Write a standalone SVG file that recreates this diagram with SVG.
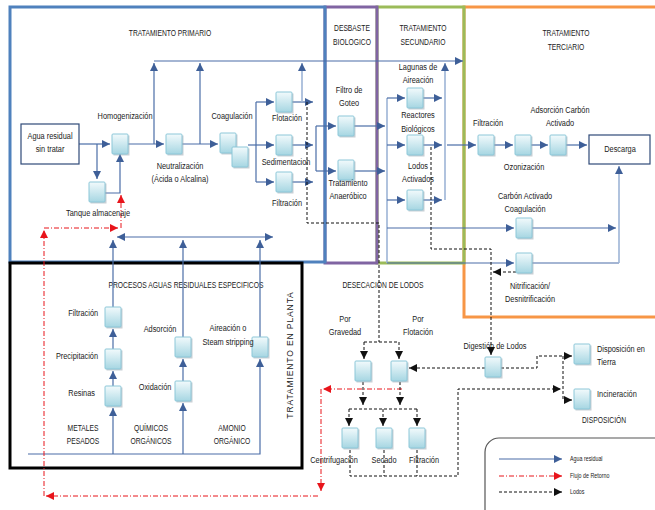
<svg xmlns="http://www.w3.org/2000/svg" width="655" height="510" viewBox="0 0 655 510">
<defs>
<style>
text{font-family:"Liberation Sans",Arial,sans-serif;font-size:9px;fill:#1a1a1a;text-anchor:middle;transform-box:fill-box;transform-origin:center;transform:scaleX(0.82)}
.u{transform:scaleX(0.75)}
.s{text-anchor:start;transform-origin:left center}
.e{text-anchor:end;transform-origin:right center}
.lg{font-size:6.5px;text-anchor:start;transform-origin:left center}
.rot{transform:scaleX(1)}
.frame{fill:none;stroke-width:3}
.w{fill:none;stroke:#4A6DA7;stroke-width:1.2}
.wl{fill:none;stroke:#9DB4D6;stroke-width:1.6}
.r{fill:none;stroke:#E8141B;stroke-width:1;stroke-dasharray:5 2 1 2}
.k{fill:none;stroke:#111;stroke-width:1;stroke-dasharray:3 2}
.nb{fill:#fff;stroke:#2F4A78;stroke-width:1.2}
</style>
<linearGradient id="g" x1="0" y1="0" x2="0" y2="1">
<stop offset="0" stop-color="#F2FAFC"/><stop offset="1" stop-color="#A6D6E2"/>
</linearGradient>
<g id="bx"><rect x="1.5" y="1.5" width="16" height="20" fill="#9AA7B2" opacity="0.55"/><rect width="16" height="20" rx="1" fill="url(#g)" stroke="#8CC7D8" stroke-width="1"/></g>
<marker id="ab" viewBox="0 0 10 10" refX="10" refY="5" markerWidth="8" markerHeight="8" markerUnits="userSpaceOnUse" orient="auto-start-reverse"><path d="M0,0L10,5L0,10z" fill="#3E5F98"/></marker>
<marker id="ar" viewBox="0 0 10 10" refX="10" refY="5" markerWidth="8" markerHeight="8" markerUnits="userSpaceOnUse" orient="auto"><path d="M0,0L10,5L0,10z" fill="#E8141B"/></marker>
<marker id="ak" viewBox="0 0 10 10" refX="10" refY="5" markerWidth="8" markerHeight="8" markerUnits="userSpaceOnUse" orient="auto"><path d="M0,0L10,5L0,10z" fill="#111"/></marker>
</defs>
<rect width="655" height="510" fill="#fff"/>

<!-- frames -->
<g id="frames">
<rect x="464" y="7" width="200" height="310" class="frame" stroke="#F79646"/>
<rect x="377" y="7" width="87" height="256" class="frame" stroke="#9BBB59"/>
<rect x="325" y="7" width="52" height="256" class="frame" stroke="#8064A2"/>
<rect x="10" y="7" width="315" height="255" class="frame" stroke="#4F81BD"/>
<rect x="10" y="263" width="292" height="205" class="frame" stroke="#000"/>
<text class="u" x="170" y="36">TRATAMIENTO PRIMARIO</text>
<text class="u" x="352" y="31">DESBASTE</text><text class="u" x="352" y="45">BIOLOGICO</text>
<text class="u" x="423" y="31">TRATAMIENTO</text><text class="u" x="423" y="45">SECUNDARIO</text>
<text class="u" x="566" y="36">TRATAMIENTO</text><text class="u" x="566" y="50">TERCIARIO</text>
<text class="u" x="186" y="288">PROCESOS AGUAS RESIDUALES ESPECIFICOS</text>
<text class="u" x="383" y="288">DESECACION DE LODOS</text>
<text class="u" x="604" y="423">DISPOSICIÓN</text>
<g transform="translate(293,355) rotate(-90)"><text class="rot" x="0" y="0" style="font-size:8.5px;letter-spacing:0.9px">TRATAMIENTO EN PLANTA</text></g>
</g>

<!-- connectors -->
<g id="connectors">
<path class="w" d="M79,144H110" marker-end="url(#ab)"/>
<path class="w" d="M97,144V179" marker-end="url(#ab)"/>
<path class="w" d="M105,193H120V154" marker-end="url(#ab)"/>
<path class="w" d="M128,144H164" marker-end="url(#ab)"/>
<path class="w" d="M154,144V63" marker-end="url(#ab)"/>
<path class="w" d="M182,144H218" marker-end="url(#ab)"/>
<path class="w" d="M200,144V63" marker-end="url(#ab)"/>
<path class="w" d="M154,61H463" marker-end="url(#ab)"/>
<path class="w" d="M248,145H274" marker-end="url(#ab)"/>
<path class="w" d="M256,102V182"/>
<path class="w" d="M256,102H274" marker-end="url(#ab)"/>
<path class="w" d="M256,182H274" marker-end="url(#ab)"/>
<path class="w" d="M292,102H313" marker-end="url(#ab)"/>
<path class="w" d="M292,145H313" marker-end="url(#ab)"/>
<path class="w" d="M292,182H313" marker-end="url(#ab)"/>
<path class="wl" d="M302,102V63" marker-end="url(#ab)"/>
<path class="w" d="M316,126V171"/>
<path class="w" d="M316,126H336" marker-end="url(#ab)"/>
<path class="w" d="M316,171H336" marker-end="url(#ab)"/>
<path class="w" d="M354,126H385" marker-end="url(#ab)"/>
<path class="w" d="M354,171H385" marker-end="url(#ab)"/>
<path class="wl" d="M387,98V263"/>
<path class="w" d="M387,98H405" marker-end="url(#ab)"/>
<path class="w" d="M387,145H405" marker-end="url(#ab)"/>
<path class="w" d="M387,200H405" marker-end="url(#ab)"/>
<path class="w" d="M423,98H442" marker-end="url(#ab)"/>
<path class="w" d="M423,145H442" marker-end="url(#ab)"/>
<path class="w" d="M423,200H442" marker-end="url(#ab)"/>
<path class="wl" d="M445,200V63" marker-end="url(#ab)"/>
<path class="w" d="M447,145H476" marker-end="url(#ab)"/>
<path class="w" d="M494,145H513" marker-end="url(#ab)"/>
<path class="w" d="M531,145H548" marker-end="url(#ab)"/>
<path class="w" d="M566,145H587" marker-end="url(#ab)"/>
<path class="w" d="M387,228H514" marker-end="url(#ab)"/>
<path class="w" d="M387,263H514" marker-end="url(#ab)"/>
<path class="w" d="M532,228H616" marker-end="url(#ab)"/>
<path class="w" d="M532,263H619"/>
<path class="wl" d="M619,263V166" marker-end="url(#ab)"/>
<path class="w" d="M117,237H273" marker-start="url(#ab)" marker-end="url(#ab)"/>
<path class="w" d="M113,307V240" marker-end="url(#ab)"/>
<path class="w" d="M183,337V240" marker-end="url(#ab)"/>
<path class="w" d="M260,337V240" marker-end="url(#ab)"/>
<path class="w" d="M28,454H260V359" marker-end="url(#ab)"/>
<path class="w" d="M113,454V408" marker-end="url(#ab)"/>
<path class="w" d="M113,386V371" marker-end="url(#ab)"/>
<path class="w" d="M113,349V329" marker-end="url(#ab)"/>
<path class="w" d="M183,454V403" marker-end="url(#ab)"/>
<path class="w" d="M183,381V359" marker-end="url(#ab)"/>
<path class="r" d="M402,389H323" marker-end="url(#ar)"/>
<path class="r" d="M321,389V491" marker-end="url(#ar)"/>
<path class="r" d="M318,496H46" marker-end="url(#ar)"/>
<path class="r" d="M44,496V230" marker-end="url(#ar)"/>
<path class="r" d="M44,228H118" marker-end="url(#ar)"/>
<path class="r" d="M121,228V195" marker-end="url(#ar)"/>
<path class="k" d="M307,102V223H379V342"/>
<path class="k" d="M364,342H399"/>
<path class="k" d="M364,342V359" marker-end="url(#ak)"/>
<path class="k" d="M399,342V359" marker-end="url(#ak)"/>
<path class="k" d="M431,147V249H491V355" marker-end="url(#ak)"/>
<path class="k" d="M516,272H493" marker-end="url(#ak)"/>
<path class="k" d="M485,368H409" marker-end="url(#ak)"/>
<path class="k" d="M501,368H537V356H572" marker-end="url(#ak)"/>
<path class="k" d="M563,356V400H572" marker-end="url(#ak)"/>
<path class="k" d="M363,382V405" marker-end="url(#ak)"/>
<path class="k" d="M400,382V405" marker-end="url(#ak)"/>
<path class="k" d="M349,409H417"/>
<path class="k" d="M349,409V426" marker-end="url(#ak)"/>
<path class="k" d="M383,409V426" marker-end="url(#ak)"/>
<path class="k" d="M417,409V426" marker-end="url(#ak)"/>
<path class="k" d="M350,450V476H458V389H561" marker-end="url(#ak)"/>
<path class="k" d="M384,450V476"/>
<path class="k" d="M417,450V476"/>
</g>

<!-- nodes -->
<g id="n-agua"><rect x="21" y="124" width="58" height="40" class="nb"/><text x="50" y="139">Agua residual</text><text x="50" y="152">sin tratar</text></g>
<g id="n-homog"><use href="#bx" x="112" y="134"/><text x="125" y="119">Homogenización</text></g>
<g id="n-tanque"><use href="#bx" x="89" y="182"/><text x="98" y="216">Tanque almacenaje</text></g>
<g id="n-neutral"><use href="#bx" x="166" y="134"/><text x="180" y="169">Neutralización</text><text x="180" y="182">(Ácida o Alcalina)</text></g>
<g id="n-coag"><use href="#bx" x="220" y="133"/><use href="#bx" x="232" y="147"/><text x="232" y="119">Coagulación</text></g>
<g id="n-flot"><use href="#bx" x="276" y="92"/><text x="287" y="121">Flotación</text></g>
<g id="n-sed"><use href="#bx" x="276" y="135"/><text x="286" y="165">Sedimentacion</text></g>
<g id="n-filt1"><use href="#bx" x="276" y="172"/><text x="287" y="206">Filtración</text></g>
<g id="n-goteo"><use href="#bx" x="338" y="116"/><text x="349" y="93">Filtro de</text><text x="349" y="106">Goteo</text></g>
<g id="n-anaer"><use href="#bx" x="338" y="160"/><text x="348" y="186">Tratamiento</text><text x="348" y="199">Anaeróbico</text></g>
<g id="n-lagunas"><use href="#bx" x="407" y="88"/><text x="418" y="70">Lagunas de</text><text x="418" y="83">Aireación</text></g>
<g id="n-reactores"><use href="#bx" x="407" y="135"/><text x="418" y="118">Reactores</text><text x="418" y="132">Biológicos</text></g>
<g id="n-lodos"><use href="#bx" x="407" y="190"/><text x="418" y="169">Lodos</text><text x="418" y="182">Activados</text></g>
<g id="n-filt3"><use href="#bx" x="478" y="135"/><text x="488" y="126">Filtración</text></g>
<g id="n-ozon"><use href="#bx" x="515" y="135"/><text x="524" y="170">Ozonización</text></g>
<g id="n-adsc"><use href="#bx" x="550" y="135"/><text x="560" y="113">Adsorción Carbón</text><text x="560" y="126">Activado</text></g>
<g id="n-descarga"><rect x="589" y="135" width="61" height="29" class="nb"/><text x="620" y="152">Descarga</text></g>
<g id="n-carbon"><use href="#bx" x="516" y="218"/><text x="525" y="199">Carbón Activado</text><text x="525" y="212">Coagulación</text></g>
<g id="n-nitr"><use href="#bx" x="516" y="253"/><text x="530" y="289">Nitrificación/</text><text x="530" y="302">Desnitrificación</text></g>
<g id="n-grav"><use href="#bx" x="355" y="361"/><text x="345" y="322">Por</text><text x="345" y="335">Gravedad</text></g>
<g id="n-flotac"><use href="#bx" x="391" y="361"/><text x="418" y="322">Por</text><text x="418" y="335">Flotación</text></g>
<g id="n-digest"><use href="#bx" x="485" y="357"/><text x="495" y="349">Digestión de Lodos</text></g>
<g id="n-tierra"><use href="#bx" x="574" y="344"/><text class="s" x="597" y="352">Disposición en</text><text class="s" x="597" y="365">Tierra</text></g>
<g id="n-incin"><use href="#bx" x="574" y="389"/><text class="s" x="597" y="397">Incineración</text></g>
<g id="n-centrif"><use href="#bx" x="342" y="428"/><text x="334" y="463">Centrifugación</text></g>
<g id="n-secado"><use href="#bx" x="376" y="428"/><text x="384" y="463">Secado</text></g>
<g id="n-filt4"><use href="#bx" x="409" y="428"/><text x="424" y="463">Filtración</text></g>
<g id="n-filt2"><use href="#bx" x="105" y="307"/><text class="e" x="98" y="316">Filtración</text></g>
<g id="n-precip"><use href="#bx" x="105" y="349"/><text class="e" x="98" y="359">Precipitación</text></g>
<g id="n-resinas"><use href="#bx" x="105" y="386"/><text class="e" x="95" y="396">Resinas</text></g>
<g id="n-adsor"><use href="#bx" x="175" y="337"/><text x="160" y="332">Adsorción</text></g>
<g id="n-oxid"><use href="#bx" x="175" y="381"/><text x="155" y="390">Oxidación</text></g>
<g id="n-aireac"><use href="#bx" x="252" y="337"/><text x="228" y="331">Aireación o</text><text x="228" y="345">Steam stripping</text></g>
<g id="n-sources"><text class="u" x="83" y="431">METALES</text><text class="u" x="83" y="444">PESADOS</text><text class="u" x="151" y="431">QUÍMICOS</text><text class="u" x="151" y="444">ORGÁNICOS</text><text class="u" x="232" y="431">AMONIO</text><text class="u" x="232" y="444">ORGÁNICO</text></g>

<!-- legend -->
<g id="legend">
<rect x="485" y="438" width="185" height="90" rx="14" fill="none" stroke="#555" stroke-width="1.2"/>
<path class="w" d="M499,459H562" marker-end="url(#ab)"/>
<path class="r" d="M499,476H562" marker-end="url(#ar)"/>
<path class="k" d="M499,492H562" marker-end="url(#ak)"/>
<text class="lg" x="570" y="461">Agua residual</text>
<text class="lg" x="570" y="478">Flujo de Retorno</text>
<text class="lg" x="570" y="494">Lodos</text>
</g>
</svg>
